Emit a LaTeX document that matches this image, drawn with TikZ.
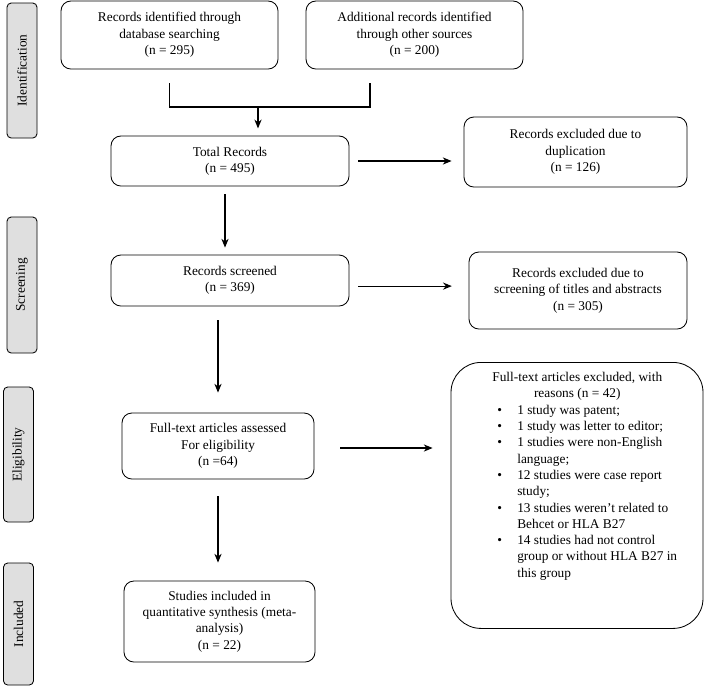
\documentclass[tikz,border=0pt]{standalone}
\usepackage{fontspec}
\setmainfont{Liberation Serif}
\usetikzlibrary{arrows.meta}

\tikzset{
  box/.style={draw,line width=0.6pt,rounded corners=7pt,align=center,inner sep=2pt},
  phase/.style={draw,line width=0.6pt,fill=gray!25,rounded corners=3pt,rotate=90,minimum height=0.75cm},
  arr/.style={-{Stealth[length=2.2mm,width=1.8mm]},line width=0.8pt},
}

\begin{document}
\begin{tikzpicture}[font=\fontsize{9.5}{11.6}\selectfont]

      \useasboundingbox (0,0) rectangle (17.7,-17.225);

      \node[phase,minimum width=3.375cm] (ident) at (0.55,-1.7625) {Identification};
      \node[phase,minimum width=3.4cm] (screen) at (0.55,-7.125) {Screening};
      \node[phase,minimum width=3.375cm] (elig) at (0.4625,-11.3625) {Eligibility};
      \node[phase,minimum width=3.05cm] (incl) at (0.4625,-15.6) {Included};

      \node[box,minimum width=5.425cm,minimum height=1.7cm] (dbsearch) at (4.2375,-0.875) {Records identified through\\database searching\\(n = 295)};
      \node[box,minimum width=5.425cm,minimum height=1.7cm] (othersrc) at (10.3625,-0.875) {Additional records identified\\through other sources\\(n = 200)};
      \node[box,minimum width=5.95cm,minimum height=1.25cm] (total) at (5.75,-4.025) {Total Records\\(n = 495)};
      \node[box,minimum width=5.575cm,minimum height=1.75cm] (dupl) at (14.3875,-3.8) {Records excluded due to\\duplication\\(n = 126)};
      \node[box,minimum width=5.95cm,minimum height=1.275cm] (screened) at (5.75,-7.0125) {Records screened\\(n = 369)};
      \node[box,minimum width=5.45cm,minimum height=1.925cm] (titles) at (14.45,-7.2625) {Records excluded due to\\screening of titles and abstracts\\(n = 305)};
      \node[box,minimum width=4.8cm,minimum height=1.65cm] (fulltext) at (5.45,-11.15) {Full-text articles assessed\\For eligibility\\(n =64)};
      \node[box,minimum width=4.775cm,minimum height=2.025cm] (studies) at (5.4875,-15.5375) {Studies included in\\quantitative synthesis (meta-\\analysis)\\(n = 22)};

      \node[draw,line width=0.6pt,rounded corners=0.75cm,minimum width=6.3cm,minimum height=6.65cm,anchor=north] (reasons) at (14.425,-9.05) {};
      \node[anchor=north west,inner sep=0pt] (reasonstxt) at (12.175,-9.3) {\begin{minipage}[t]{4.9cm}
        \makebox[4.5cm][c]{Full-text articles excluded, with}\\
        \makebox[4.5cm][c]{reasons (n = 42)}\\
        \begin{tabular}[t]{@{\hspace{0.25cm}}p{0.5cm}@{}p{4.15cm}@{}}
          \textbullet & 1 study was patent;\\
          \textbullet & 1 study was letter to editor;\\
          \textbullet & 1 studies were non-English\newline language;\\
          \textbullet & 12 studies were case report\newline study;\\
          \textbullet & 13 studies weren’t related to\newline Behcet or HLA B27\\
          \textbullet & 14 studies had not control\newline group or without HLA B27 in\newline this group
        \end{tabular}
      \end{minipage}};

      \coordinate (leftfoot) at (4.2375,-2.075);
      \coordinate (rightfoot) at (9.25,-2.075);
      \coordinate (join) at (6.45,-2.675);

      \draw[line width=0.8pt] (leftfoot) |- (join) -| (rightfoot);
      \draw[arr,shorten >=0.18cm] (join) -- (join |- total.north);

      \draw[arr,shorten <=0.225cm,shorten >=0.3cm] (total.east) -- (total.east -| dupl.west);
      \draw[arr,shorten <=0.2cm,shorten >=0.175cm] ([xshift=-0.125cm]total.south) -- ([xshift=-0.125cm]screened.north);
      \draw[arr,shorten <=0.225cm,shorten >=0.42cm] ([yshift=-0.14cm]screened.east) -- ([yshift=-0.14cm]screened.east -| titles.west);
      \draw[arr,shorten <=0.35cm,shorten >=0.5cm] (fulltext.north |- screened.south) -- (fulltext.north);
      \draw[arr,shorten <=0.65cm,shorten >=0.45cm] ([yshift=-0.05cm]fulltext.east) -- ([yshift=-0.05cm]fulltext.east -| reasons.west);
      \draw[arr,shorten <=0.425cm,shorten >=0.45cm] (fulltext.south) -- (fulltext.south |- studies.north);

    \end{tikzpicture}
\end{document}
